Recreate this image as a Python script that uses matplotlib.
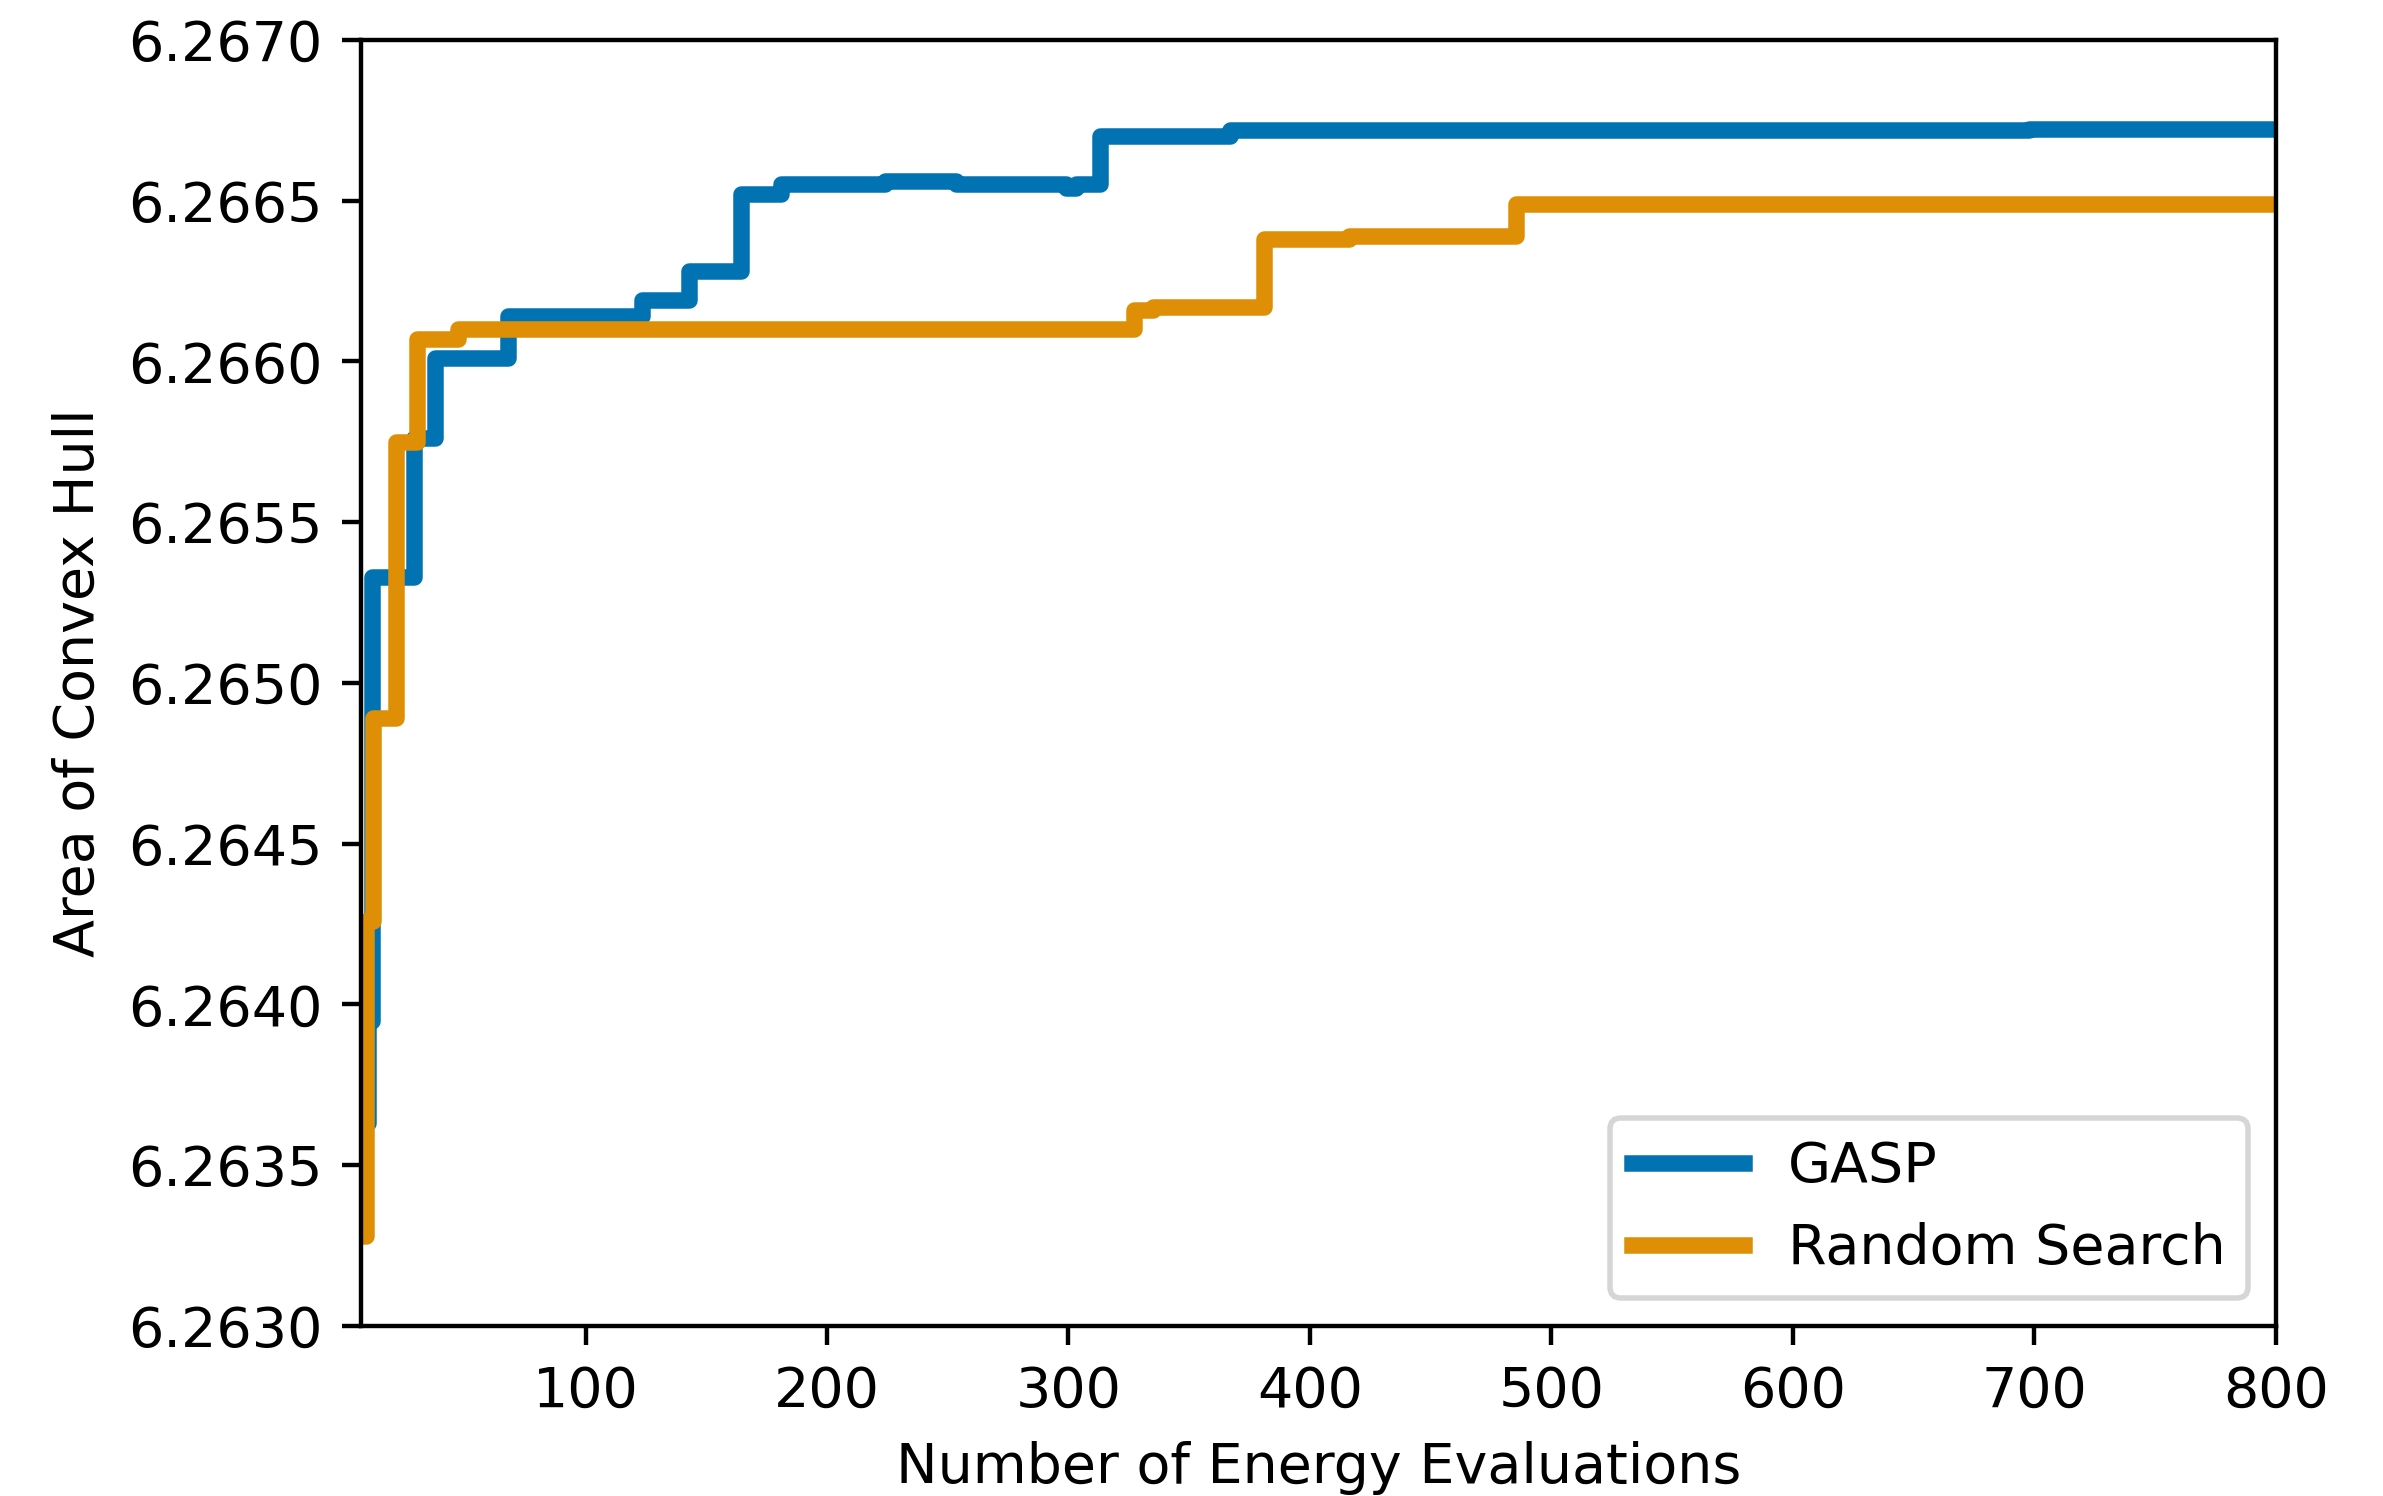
import matplotlib
matplotlib.use("Agg")
import matplotlib.pyplot as plt

# best convex hull area after each number of energy evaluations
gasp_evals = [9.5, 10, 11.5, 29, 37.5, 68, 123.5, 142.7, 164.3, 181, 224, 253.5,
              299, 303, 313, 367, 698, 800]
gasp_area = [6.26363, 6.26395, 6.26533, 6.26576, 6.26601, 6.26614, 6.26619, 6.26628,
             6.26652, 6.26655, 6.26656, 6.26655, 6.26654, 6.26655, 6.26670, 6.26672,
             6.266723, 6.266723]

random_evals = [8.7, 9.2, 12, 21.3, 30, 47, 327, 335, 381, 416, 485.5, 800]
random_area = [6.26328, 6.26426, 6.26489, 6.26575, 6.26607, 6.26610, 6.26616, 6.26617,
               6.26638, 6.26639, 6.26649, 6.26649]

x_ticks = [100, 200, 300, 400, 500, 600, 700, 800]
y_ticks = [6.2630, 6.2635, 6.2640, 6.2645, 6.2650, 6.2655, 6.2660, 6.2665, 6.2670]

dpi = 396
fs = 10.1
fig = plt.figure(figsize=((2383 + 0.2) / dpi, (1496 + 0.2) / dpi), dpi=dpi)
ax = fig.add_axes([0.1515, 0.1136, 0.9549 - 0.1515, 0.9733 - 0.1136])

ax.step(gasp_evals, gasp_area, where='post', color='#0173B2', linewidth=3, label='GASP')
ax.step(random_evals, random_area, where='post', color='#DE8F05', linewidth=3, label='Random Search')

ax.set_xlim(7, 800)
ax.set_ylim(6.2630, 6.2670)
ax.set_xticks(x_ticks)
ax.set_yticks(y_ticks)
ax.set_yticklabels(['%.4f' % v for v in y_ticks])
ax.tick_params(labelsize=fs)

ax.set_xlabel('Number of Energy Evaluations', fontsize=fs)
ax.set_ylabel('Area of Convex Hull', fontsize=fs)
ax.legend(loc='lower right', fontsize=fs, handlelength=2.0)

fig.savefig('out.png', dpi=dpi)
